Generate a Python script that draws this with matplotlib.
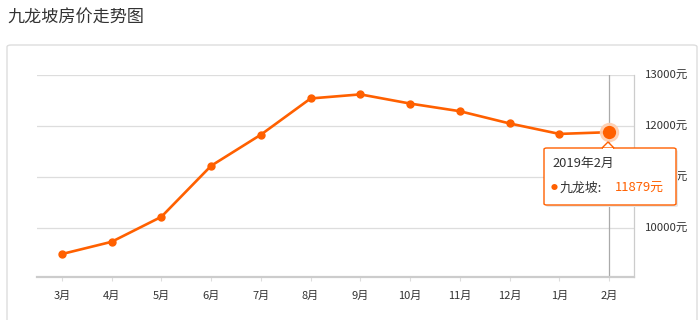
import matplotlib
matplotlib.use("Agg")
import matplotlib.pyplot as plt
from matplotlib.patches import FancyBboxPatch, Rectangle, Polygon

plt.rcParams['font.family'] = ['Noto Sans CJK SC', 'DejaVu Sans']

months = ['3月', '4月', '5月', '6月', '7月', '8月', '9月', '10月', '11月', '12月', '1月', '2月']
prices = [9490, 9730, 10220, 11220, 11830, 12540, 12620, 12440, 12290, 12050, 11845, 11879]
yticks = [10000, 11000, 12000, 13000]
ytick_labels = ['10000元', '11000元', '12000元', '13000元']
title = '九龙坡房价走势图'
series_name = '九龙坡'
tip_title = '2019年2月'

W, H = 699, 320
fig = plt.figure(figsize=(W / 100, H / 100), dpi=100)
fig.patch.set_facecolor('white')

# outer panel
fig.patches.append(FancyBboxPatch((7 / W, -0.05), 690 / W, 1 - 45 / H + 0.05,
                                  boxstyle='round,pad=0,rounding_size=0.006',
                                  transform=fig.transFigure, facecolor='white',
                                  edgecolor='#dddddd', linewidth=1.0, zorder=-5))

fig.text(7 / W, 1 - 17 / H, title, fontsize=12.3, color='#333333', va='center', ha='left')

ax = fig.add_axes([37 / W, 1 - 277 / H, (634 - 37) / W, (277 - 75) / H])
ax.set_zorder(1)
ax.set_facecolor('none')
x = list(range(len(months)))
color = '#ff6000'
ax.plot(x, prices, color=color, linewidth=1.9, marker='o', markersize=5, zorder=3,
        solid_joinstyle='round')
ax.set_xlim(-0.5, len(months) - 0.5)
ax.set_ylim(9040, 13000)

ax.set_yticks(yticks)
ax.set_yticklabels(ytick_labels)
ax.yaxis.tick_right()
ax.tick_params(axis='y', length=0, pad=8, labelsize=8.2, labelcolor='#333333')
ax.grid(axis='y', color='#dddddd', linewidth=0.9)
ax.set_xticks(x)
ax.set_xticklabels(months)
ax.tick_params(axis='x', length=3, color='#dddddd', pad=7, labelsize=8, labelcolor='#333333')

for s in ['top', 'left']:
    ax.spines[s].set_visible(False)
ax.spines['bottom'].set_color('#cccccc')
ax.spines['bottom'].set_linewidth(1.6)
ax.spines['right'].set_color('#cccccc')
ax.spines['right'].set_linewidth(0.9)

# crosshair + highlighted point
last = len(months) - 1
ax.axvline(last, color='#aaaaaa', linewidth=0.9, zorder=2)
ax.plot([last], [prices[-1]], 'o', markersize=13, color='#ffcfb0', alpha=0.9, zorder=3.5)
ax.plot([last], [prices[-1]], 'o', markersize=8.5, color=color, zorder=4)

# tooltip
def fx(px):
    return px / W

def fy(py):
    return 1 - py / H

shadow = FancyBboxPatch((fx(546), fy(207)), 132 / W, 57 / H, transform=fig.transFigure,
                        boxstyle='round,pad=0,rounding_size=0.004',
                        facecolor='#e8e8e8', edgecolor='none', zorder=5)
fig.patches.append(shadow)
box = FancyBboxPatch((fx(544), fy(205)), 132 / W, 57 / H, transform=fig.transFigure,
                     boxstyle='round,pad=0,rounding_size=0.004',
                     facecolor='white', edgecolor=color, linewidth=1.0, zorder=6)
fig.patches.append(box)
tri = Polygon([(fx(602), fy(148)), (fx(608), fy(142)), (fx(614), fy(148))], closed=True,
              transform=fig.transFigure, facecolor='white', edgecolor=color,
              linewidth=1.0, zorder=7)
fig.patches.append(tri)
fig.patches.append(Rectangle((fx(603), fy(149.5)), 10 / W, 2 / H, transform=fig.transFigure,
                             facecolor='white', edgecolor='none', zorder=7.5))
fig.text(fx(552), fy(163), tip_title, fontsize=9.3, color='#333333', va='center', zorder=8)
fig.text(fx(551), fy(188), '●', fontsize=5, color=color, va='center', zorder=8)
fig.text(fx(560), fy(188), series_name + ':', fontsize=9.3, color='#333333', va='center', zorder=8)
fig.text(fx(615), fy(188), f'{prices[-1]}元', fontsize=9.3, color=color, va='center', zorder=8)

fig.savefig('out.png', dpi=100, facecolor='white')
